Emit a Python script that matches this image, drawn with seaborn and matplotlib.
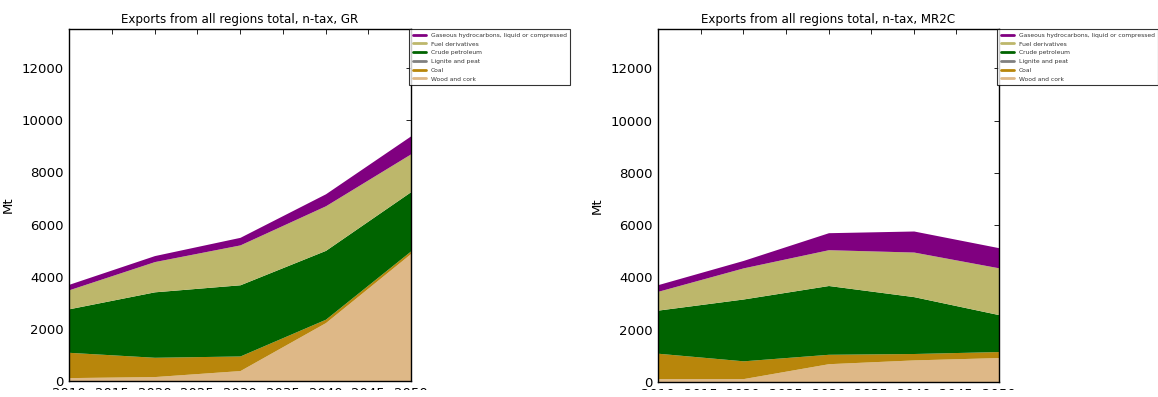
import numpy as np
import matplotlib
matplotlib.use("Agg")
import matplotlib.pyplot as plt
from matplotlib.lines import Line2D
from matplotlib.patches import Rectangle
import seaborn as sns

# data (Mt)
years = [2010, 2020, 2030, 2040, 2050]
categories = ["Wood and cork", "Coal", "Lignite and peat", "Crude petroleum",
              "Fuel derivatives", "Gaseous hydrocarbons, liquid or compressed"]
colors = ["#deb887", "#b8860b", "#808080", "#006400", "#bdb76b", "#800080"]

gr_wood = [130, 170, 400, 2240, 4900]
gr_coal = [970, 740, 560, 130, 100]
gr_lignite = [0, 0, 0, 0, 0]
gr_crude = [1670, 2510, 2730, 2640, 2270]
gr_fuel = [730, 1160, 1530, 1710, 1450]
gr_gas = [210, 230, 290, 460, 690]

mr_wood = [130, 130, 700, 845, 935]
mr_coal = [970, 680, 360, 245, 230]
mr_lignite = [0, 0, 0, 0, 0]
mr_crude = [1650, 2365, 2630, 2175, 1410]
mr_fuel = [720, 1190, 1370, 1705, 1790]
mr_gas = [255, 285, 650, 805, 770]

panels = [
    ("Exports from all regions total, n-tax, GR",
     [gr_wood, gr_coal, gr_lignite, gr_crude, gr_fuel, gr_gas]),
    ("Exports from all regions total, n-tax, MR2C",
     [mr_wood, mr_coal, mr_lignite, mr_crude, mr_fuel, mr_gas]),
]

sns.set_theme(style="white")
plt.rcParams.update({
    "font.family": ["DejaVu Sans"],
    "text.color": "black", "axes.labelcolor": "black",
    "xtick.color": "black", "ytick.color": "black",
    "xtick.direction": "in", "ytick.direction": "in",
    "xtick.top": True, "ytick.right": True,
    "xtick.major.size": 3.5, "ytick.major.size": 3.5,
    "xtick.major.width": 0.6, "ytick.major.width": 0.6,
    "axes.edgecolor": "black", "axes.linewidth": 1.0,
})

fig = plt.figure(figsize=(11.58, 3.97), dpi=100)
W, H = 1158, 397
# axes boxes in pixels: left, top, width, height
boxes = [(69, 29, 342, 352), (658, 29, 341, 353)]

for (title, series), (x0, y0, w, h) in zip(panels, boxes):
    ax = fig.add_axes([x0 / W, 1 - (y0 + h) / H, w / W, h / H])
    ax.stackplot(years, *series, colors=colors, linewidth=0)
    ax.set_xlim(2010, 2050)
    ax.set_ylim(0, 13500)
    ax.set_xticks(range(2010, 2051, 5))
    ax.set_yticks(range(0, 12001, 2000))
    ax.tick_params(labelsize=9.5, pad=4)
    ax.set_ylabel("Mt", fontsize=9.5, labelpad=5)
    ax.set_title(title, fontsize=8.6, pad=4)
    handles = [Line2D([0], [0], color=c, lw=2) for c in colors]
    leg = ax.legend(handles[::-1], categories[::-1], loc="upper left",
                    bbox_to_anchor=(0.995, 1.0), fontsize=4.3, frameon=True,
                    fancybox=False, edgecolor="black", borderaxespad=0,
                    handlelength=2.2, labelspacing=0.6, borderpad=0.6)
    leg.get_frame().set_linewidth(0.8)
    for t in leg.get_texts():
        t.set_color("#333333")

# the source image is cropped through the year labels
fig.patches.append(Rectangle((0, 0), 1, 7 / H, transform=fig.transFigure,
                             facecolor="white", edgecolor="none", zorder=10))

fig.savefig("out.png", dpi=100)
